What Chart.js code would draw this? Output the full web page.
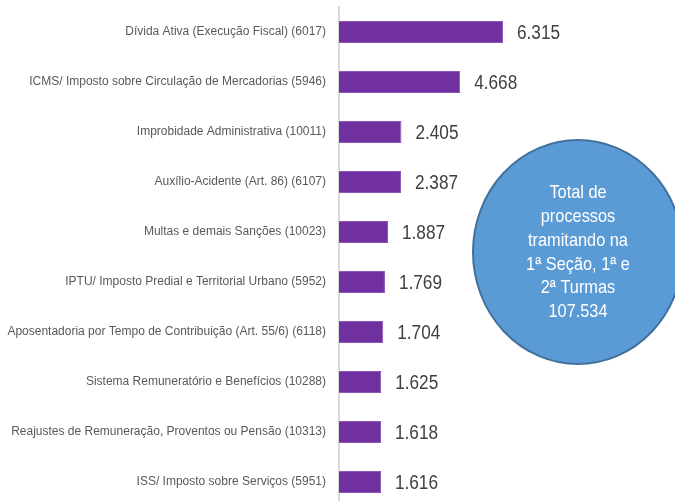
<!DOCTYPE html>
<html>
<head>
<meta charset="utf-8">
<script src="https://cdn.jsdelivr.net/npm/chart.js@4.4.0/dist/chart.umd.min.js"></script>
<style>
    html, body { margin: 0; padding: 0; background: #fff; overflow: hidden; }
    #wrap { width: 675px; height: 507px; position: relative; }
</style>
</head>
<body>
<div id="wrap"><canvas id="processChart"></canvas></div>
<script>
const categories = [
    'Dívida Ativa (Execução Fiscal) (6017)',
    'ICMS/ Imposto sobre Circulação de Mercadorias (5946)',
    'Improbidade Administrativa (10011)',
    'Auxílio-Acidente (Art. 86) (6107)',
    'Multas e demais Sanções (10023)',
    'IPTU/ Imposto Predial e Territorial Urbano (5952)',
    'Aposentadoria por Tempo de Contribuição (Art. 55/6) (6118)',
    'Sistema Remuneratório e Benefícios (10288)',
    'Reajustes de Remuneração, Proventos ou Pensão (10313)',
    'ISS/ Imposto sobre Serviços (5951)'
];
const processos = [6315, 4668, 2405, 2387, 1887, 1769, 1704, 1625, 1618, 1616];

const totalLines = ['Total de', 'processos', 'tramitando na', '1ª Seção, 1ª e', '2ª Turmas', '107.534'];

const fontName = '"Liberation Sans", Arial, sans-serif';
const narrow = 0.86;  // fonte original e condensada

function formatBR(n) {
    return String(n).replace(/\B(?=(\d{3})+(?!\d))/g, '.');
}

function narrowText(ctx, text, x, y) {
    ctx.save();
    ctx.translate(x, y);
    ctx.scale(narrow, 1);
    ctx.fillText(text, 0, 0);
    ctx.restore();
}

// numero ao lado de cada barra
const valueLabels = {
    id: 'valueLabels',
    afterDatasetsDraw(chart) {
        const ctx = chart.ctx;
        const meta = chart.getDatasetMeta(0);
        ctx.save();
        ctx.font = '20px ' + fontName;
        ctx.fillStyle = '#404040';
        ctx.textAlign = 'left';
        ctx.textBaseline = 'middle';
        meta.data.forEach((bar, i) => {
            narrowText(ctx, formatBR(processos[i]), bar.x + 14, bar.y + 1);
        });
        ctx.restore();
    }
};

// circulo com o total
const totalBubble = {
    id: 'totalBubble',
    afterDraw(chart) {
        const ctx = chart.ctx;
        ctx.save();
        ctx.beginPath();
        ctx.ellipse(578, 252, 105, 112, 0, 0, Math.PI * 2);
        ctx.fillStyle = '#5B9BD5';
        ctx.fill();
        ctx.lineWidth = 2;
        ctx.strokeStyle = '#41719C';
        ctx.stroke();
        ctx.font = '19px ' + fontName;
        ctx.fillStyle = '#ffffff';
        ctx.textAlign = 'center';
        ctx.textBaseline = 'middle';
        totalLines.forEach((line, i) => {
            narrowText(ctx, line, 578, 193 + i * 23.8);
        });
        ctx.restore();
    }
};

const ctx = document.getElementById('processChart').getContext('2d');
new Chart(ctx, {
    type: 'bar',
    data: {
        labels: categories,
        datasets: [{
            data: processos,
            backgroundColor: '#7030A0',
            borderColor: '#8A55B5',
            borderWidth: 1,
            barPercentage: 0.44,
            categoryPercentage: 1
        }]
    },
    options: {
        indexAxis: 'y',
        animation: false,
        responsive: true,
        maintainAspectRatio: false,
        layout: { padding: { top: 7, right: 0, bottom: 0, left: 0 } },
        scales: {
            x: {
                display: false,
                min: 0,
                max: 12940
            },
            y: {
                afterFit(scale) {
                    scale.width = 339;
                    scale.paddingTop = 0;
                    scale.paddingBottom = 0;
                },
                grid: { display: false },
                border: { display: true, color: '#D9D9D9', width: 2 },
                ticks: {
                    padding: 5,
                    color: '#595959',
                    font: { family: fontName, size: 12 }
                }
            }
        },
        plugins: {
            legend: { display: false },
            tooltip: { enabled: false }
        }
    },
    plugins: [valueLabels, totalBubble]
});
</script>
</body>
</html>
